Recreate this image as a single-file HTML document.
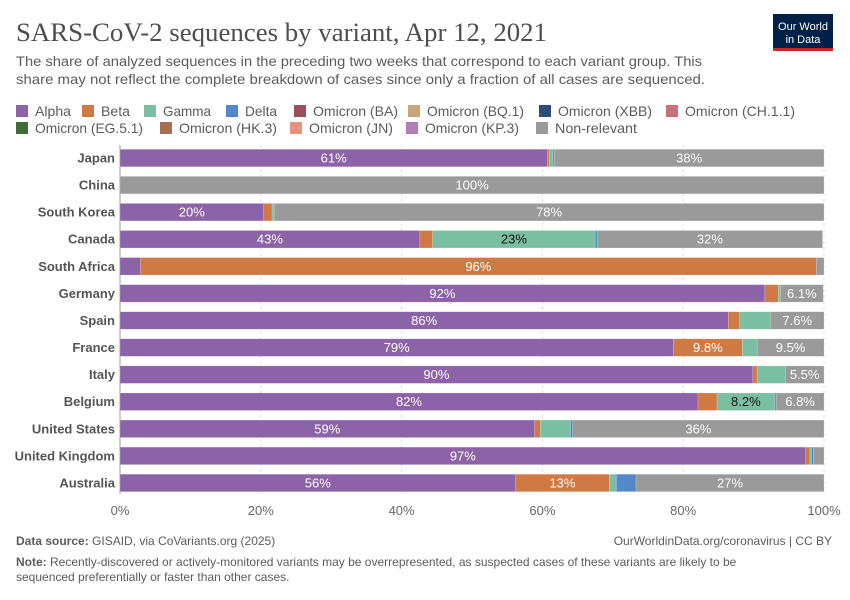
<!DOCTYPE html>
<html><head><meta charset="utf-8"><style>
body{margin:0;background:#fff;}
svg{display:block;font-family:"Liberation Sans",sans-serif;}
</style></head><body>
<svg id="c" width="850" height="600" viewBox="0 0 850 600">
<text x="16" y="41" font-family="Liberation Serif,serif" font-size="26" fill="#4e4e4e" textLength="531" lengthAdjust="spacingAndGlyphs">SARS-CoV-2 sequences by variant, Apr 12, 2021</text>
<text x="16" y="66" font-size="14" fill="#5b5b5b" textLength="686" lengthAdjust="spacingAndGlyphs">The share of analyzed sequences in the preceding two weeks that correspond to each variant group. This</text>
<text x="16" y="84" font-size="14" fill="#5b5b5b" textLength="689" lengthAdjust="spacingAndGlyphs">share may not reflect the complete breakdown of cases since only a fraction of all cases are sequenced.</text>
<g>
<rect x="773" y="14" width="60" height="36" fill="#002147"/>
<rect x="773" y="48" width="60" height="3" fill="#ce261e"/>
<text x="803" y="30" font-size="11" fill="#fff" text-anchor="middle">Our World</text>
<text x="803" y="43" font-size="11" fill="#fff" text-anchor="middle">in Data</text>
</g>
<g id="legend"></g>
<g id="grid"></g>
<g id="bars"></g>
<g id="ylab"></g>
<g id="xlab"></g>
<text x="16" y="545" font-size="12" fill="#5b5b5b"><tspan font-weight="bold">Data source:</tspan> GISAID, via CoVariants.org (2025)</text>
<text x="832" y="545" font-size="12" fill="#5b5b5b" text-anchor="end">OurWorldinData.org/coronavirus | CC BY</text>
<text x="16" y="566" font-size="12" fill="#5b5b5b"><tspan font-weight="bold">Note:</tspan> Recently-discovered or actively-monitored variants may be overrepresented, as suspected cases of these variants are likely to be</text>
<text x="16" y="581" font-size="12" fill="#5b5b5b">sequenced preferentially or faster than other cases.</text>
</svg>
<script>
const countries=["Japan","China","South Korea","Canada","South Africa","Germany","Spain","France","Italy","Belgium","United States","United Kingdom","Australia"];
const alpha=[60.7,0,20.4,42.6,2.9,91.6,86.4,78.6,89.9,82.1,58.9,97.4,56.2];
const beta=[0.3,0,1.2,1.8,96.0,1.9,1.6,9.8,0.6,2.7,0.8,0.6,13.3];
const gamma=[0.5,0,0.3,23.1,0,0.3,4.4,2.1,4.0,8.2,4.3,0.2,1.0];
const delta=[0.2,0,0,0.3,0,0,0,0,0,0.2,0.3,0.3,2.8];
const nonRelevant=[38.3,100,78.1,32.0,1.1,6.1,7.6,9.5,5.5,6.8,35.7,1.5,26.7];
const xTicks=[0,20,40,60,80,100];
const legendNames=["Alpha","Beta","Gamma","Delta","Omicron (BA)","Omicron (BQ.1)","Omicron (XBB)","Omicron (CH.1.1)","Omicron (EG.5.1)","Omicron (HK.3)","Omicron (JN)","Omicron (KP.3)","Non-relevant"];
const legendColors=["#8c63a8","#cf7a45","#7bbfa2","#5588c8","#9b4f5c","#c8a57a","#2d4d78","#c9707f","#406b39","#a86e50","#ec9080","#b27cb5","#9a9a9a"];
const NS="http://www.w3.org/2000/svg";
const X0=120,X1=824;
const x=v=>X0+(X1-X0)*v/100;
const y=i=>158+i*27.08;
const BH=17.5;
function el(tag,attrs,parent){const e=document.createElementNS(NS,tag);for(const k in attrs)e.setAttribute(k,attrs[k]);parent.appendChild(e);return e;}
const lg=document.getElementById('legend');
const lx=[16,82,144,226,294,408,539,666,16,160,290,406,536];
const lw=[36,29,48,32,85,97,94,110,108,98,84,94,82];
legendNames.forEach((n,i)=>{
  const g=el('g',{},lg);
  
  
  const ly=i<8?105:122;
  el('rect',{x:lx[i],y:ly,width:12,height:12,fill:legendColors[i]},g);
  const t=el('text',{x:lx[i]+19,y:ly+11,'font-size':14,fill:'#5b5b5b',textLength:lw[i],lengthAdjust:'spacingAndGlyphs'},g);t.textContent=n;
});
const gr=document.getElementById('grid'),xl=document.getElementById('xlab');
xTicks.forEach(t=>{
  if(t>0){const l=el('line',{x1:x(t),x2:x(t),y1:145,y2:494,stroke:'#ddd','stroke-dasharray':'3,3'},gr);
  }
  const tx=el('text',{x:x(t),y:515,'font-size':13,fill:'#666','text-anchor':'middle'},xl);
  tx.textContent=t+'%';
  
  
});
const ax=el('line',{x1:X0,x2:X0,y1:145,y2:494,stroke:'#999'},gr);


const series=[alpha,beta,gamma,delta,nonRelevant];
const sNames=["alpha","beta","gamma","delta","non-relevant"];
const sColors=["#8c63a8","#cf7a45","#7bbfa2","#5588c8","#9a9a9a"];
const txtCol=["#fff","#fff","#111","#fff","#fff"];
const bg=document.getElementById('bars'),yl=document.getElementById('ylab');
countries.forEach((c,i)=>{
  const lab=el('text',{x:115,y:y(i)+4.5,'font-size':13,'font-weight':'bold',fill:'#555','text-anchor':'end'},yl);
  lab.textContent=c;
  
  
  let acc=0;
  series.forEach((s,k)=>{
    const v=s[i];if(v<=0)return;
    const r=el('rect',{x:x(acc),y:y(i)-BH/2,width:x(acc+v)-x(acc),height:BH,fill:sColors[k],stroke:'#fff','stroke-opacity':0.35,'stroke-width':0.5},bg);
    
    
    if(v>=5){
      const t=el('text',{x:(x(acc)+x(acc+v))/2,y:y(i)+4.5,'font-size':13,fill:txtCol[k],'text-anchor':'middle'},bg);
      t.textContent=(v>=9.95?Math.round(v):v.toFixed(1))+'%';
      
      
    }
    acc+=v;
  });
});
</script>
</body></html>
